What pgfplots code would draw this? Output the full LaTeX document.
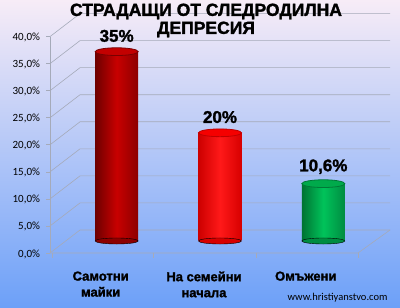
\documentclass[border=0pt]{standalone}
\usepackage{pgfplots}
\pgfplotsset{compat=1.18}
\usepackage{fontspec}
\setmainfont{Liberation Sans}
\newfontfamily\calib{Carlito}
\newfontfamily\heavy[FakeBold=1.6]{Liberation Sans Bold}
\definecolor{bgtop}{RGB}{247,236,247}
\definecolor{bgmid}{RGB}{178,206,244}
\definecolor{bgbot}{RGB}{108,160,248}
\definecolor{gridc}{RGB}{165,170,185}
\definecolor{drL}{RGB}{110,0,0}
\definecolor{drM}{RGB}{200,0,0}
\definecolor{drR}{RGB}{140,0,0}
\definecolor{drT}{RGB}{195,0,0}
\definecolor{drE}{RGB}{120,0,0}
\definecolor{rL}{RGB}{205,0,0}
\definecolor{rM}{RGB}{255,25,25}
\definecolor{rR}{RGB}{215,0,0}
\definecolor{rT}{RGB}{245,0,0}
\definecolor{rE}{RGB}{190,0,0}
\definecolor{gL}{RGB}{0,115,50}
\definecolor{gM}{RGB}{0,195,90}
\definecolor{gR}{RGB}{0,140,65}
\definecolor{gT}{RGB}{0,170,75}
\definecolor{gE}{RGB}{0,120,55}
\begin{document}
\begin{tikzpicture}[x=1pt,y=1pt]
\useasboundingbox (0,0) rectangle (400,308);
\shade[top color=bgtop, middle color=bgmid, bottom color=bgbot] (0,0) rectangle (400,308);
% 3D walls / grid (decoration)
\foreach \k in {0,...,8}{
  \draw[gridc, line width=0.6pt] (50,{55+27.05*\k}) -- (80,{78+27.05*\k}) -- (390,{78+27.05*\k});
  \draw[gridc, line width=0.6pt] (46,{55+27.05*\k}) -- (50,{55+27.05*\k});
}
\draw[gridc, line width=0.6pt] (50,55) -- (50,271.4);
\draw[gridc, line width=0.6pt] (50,55) -- (358,55) -- (390,78);
\foreach \xx in {52,153,256,358}{\draw[gridc, line width=0.6pt] (\xx,55) -- (\xx,50);}
% title
\node[font=\heavy\fontsize{17.5}{17.5}\selectfont] at (206,296.5) {СТРАДАЩИ ОТ СЛЕДРОДИЛНА};
\node[font=\heavy\fontsize{17.5}{17.5}\selectfont] at (206,278.5) {ДЕПРЕСИЯ};
\node[font=\calib\fontsize{10.5}{10.5}\selectfont, anchor=east] at (391,10) {www.hristiyanstvo.com};
\begin{axis}[
  at={(65pt,67pt)}, anchor=south west,
  scale only axis, width=310pt, height=216.4pt,
  xmin=-0.5, xmax=2.5, ymin=0, ymax=40,
  axis line style={draw=none}, major tick length=0pt,
  clip=false,
  ytick={0,5,...,40},
  yticklabels={{0,0\%},{5,0\%},{10,0\%},{15,0\%},{20,0\%},{25,0\%},{30,0\%},{35,0\%},{40,0\%}},
  yticklabel style={font=\calib\fontsize{11}{11}\selectfont, xshift=-21.5pt, yshift=-13pt},
  xtick={-0.155,0.845,1.83},
  xticklabels={{Самотни\\майки},{На семейни\\начала},{Омъжени}},
  xticklabel style={font=\heavy\fontsize{13}{16}\selectfont, align=center, anchor=north, yshift=-27pt},
]
% bottom ellipses
\addplot[only marks, mark=*, mark size=21.5pt, mark options={yscale=0.14, draw=none, fill=drR}] coordinates {(0,0)};
\addplot[only marks, mark=*, mark size=21.5pt, mark options={yscale=0.14, draw=none, fill=rR}] coordinates {(1,0)};
\addplot[only marks, mark=*, mark size=21.5pt, mark options={yscale=0.14, draw=none, fill=gR}] coordinates {(2,0)};
% cylinders
\addplot[ybar, bar width=43pt, bar shift=0pt, draw=none, left color=drL, right color=drR, middle color=drM] coordinates {(0,35)};
\addplot[ybar, bar width=43pt, bar shift=0pt, draw=none, left color=rL, right color=rR, middle color=rM] coordinates {(1,20)};
\addplot[ybar, bar width=43pt, bar shift=0pt, draw=none, left color=gL, right color=gR, middle color=gM] coordinates {(2,10.6)};
% tops
\addplot[only marks, mark=*, mark size=21.5pt, mark options={yscale=0.18, draw=drE, fill=drT, line width=0.8pt},
  point meta=explicit symbolic, nodes near coords, nodes near coords style={font=\heavy\fontsize{17}{17}\selectfont, yshift=6pt}] coordinates {(0,35) [35\%]};
\addplot[only marks, mark=*, mark size=21.5pt, mark options={yscale=0.18, draw=rE, fill=rT, line width=0.8pt},
  point meta=explicit symbolic, nodes near coords, nodes near coords style={font=\heavy\fontsize{17}{17}\selectfont, yshift=6pt}] coordinates {(1,20) [20\%]};
\addplot[only marks, mark=*, mark size=21.5pt, mark options={yscale=0.18, draw=gE, fill=gT, line width=0.8pt},
  point meta=explicit symbolic, nodes near coords, nodes near coords style={font=\heavy\fontsize{17}{17}\selectfont, yshift=6pt}] coordinates {(2,10.6) [{10,6\%}]};
\end{axis}
\end{tikzpicture}
\end{document}
